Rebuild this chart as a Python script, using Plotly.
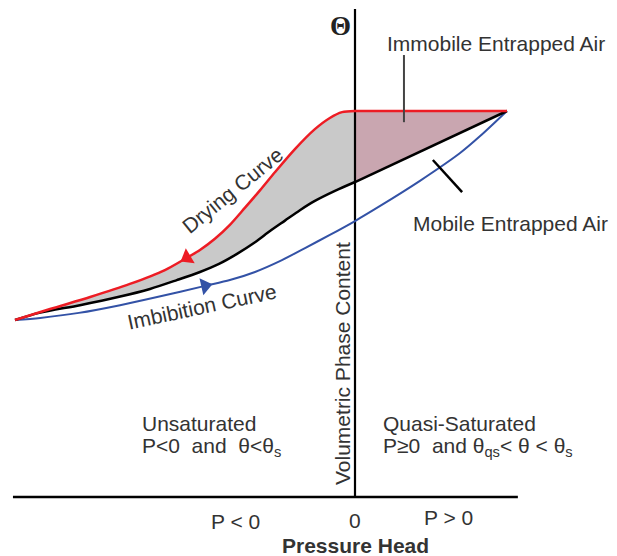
import plotly.graph_objects as go

# ---------------- data (pressure head P, normalised water content theta) ----------
drying_P_unsat = [-1.000, -0.897, -0.779, -0.662, -0.559, -0.500, -0.456, -0.412, -0.368,
                  -0.324, -0.279, -0.235, -0.176, -0.118, -0.074, -0.038, 0.000]
drying_T_unsat = [0.4585, 0.487, 0.518, 0.552, 0.588, 0.617, 0.640, 0.669, 0.705,
                  0.749, 0.795, 0.842, 0.902, 0.953, 0.982, 0.997, 1.000]
drying_P_sat = [0.000, 0.447]
drying_T_sat = [1.000, 1.000]

main_P_unsat = [-1.000, -0.929, -0.809, -0.697, -0.603, -0.524, -0.456, -0.400, -0.347,
                -0.294, -0.250, -0.206, -0.162, -0.118, -0.059, 0.000]
main_T_unsat = [0.4585, 0.477, 0.497, 0.518, 0.539, 0.562, 0.583, 0.604, 0.630,
                0.660, 0.689, 0.716, 0.743, 0.767, 0.793, 0.816]
main_P_sat = [0.000, 0.447]
main_T_sat = [0.816, 1.000]

imbib_P = [-1.000, -0.926, -0.812, -0.691, -0.582, -0.441, -0.368, -0.294, -0.221,
           -0.147, -0.074, 0.000, 0.074, 0.191, 0.309, 0.368, 0.447]
imbib_T = [0.4585, 0.464, 0.477, 0.497, 0.518, 0.547, 0.562, 0.583, 0.611,
           0.645, 0.679, 0.715, 0.754, 0.819, 0.891, 0.935, 1.000]

# arrowheads (position on curve, heading in degrees clockwise from north)
arrow_drying = {"P": [-0.494], "T": [0.620], "angle": 239}
arrow_imbib = {"P": [-0.441], "T": [0.547], "angle": 77}

# axes and leader lines
h_axis_P = [-1.006, 0.479]
h_axis_T = [0.0, 0.0]
v_axis_P = [0.0, 0.0]
v_axis_T = [0.0, 1.264]
immobile_ptr_P = [0.144, 0.144]
immobile_ptr_T = [1.145, 0.971]
mobile_ptr_P = [0.229, 0.315]
mobile_ptr_T = [0.873, 0.790]

# ---------------- styling ----------
RED = "#ed1c24"
BLUE = "#3352a6"
BLACK = "#000000"
GRAY_FILL = "#c9c9c9"
MAUVE_FILL = "#c9a6b0"
TXT = "#333333"
FONT = "Liberation Sans, Arial, sans-serif"

W, H = 617, 556

fig = go.Figure()

# fills first (no lines)
fig.add_trace(go.Scatter(x=main_P_unsat, y=main_T_unsat, mode="lines",
                         line=dict(width=0, shape="spline", smoothing=0.8),
                         hoverinfo="skip", showlegend=False))
fig.add_trace(go.Scatter(x=drying_P_unsat, y=drying_T_unsat, mode="lines",
                         line=dict(width=0, shape="spline", smoothing=0.8),
                         fill="tonexty", fillcolor=GRAY_FILL,
                         hoverinfo="skip", showlegend=False))
fig.add_trace(go.Scatter(x=main_P_sat, y=main_T_sat, mode="lines",
                         line=dict(width=0), hoverinfo="skip", showlegend=False))
fig.add_trace(go.Scatter(x=drying_P_sat, y=drying_T_sat, mode="lines",
                         line=dict(width=0), fill="tonexty", fillcolor=MAUVE_FILL,
                         hoverinfo="skip", showlegend=False))

# axes
fig.add_trace(go.Scatter(x=h_axis_P, y=h_axis_T, mode="lines",
                         line=dict(color=BLACK, width=2.5), showlegend=False))
fig.add_trace(go.Scatter(x=v_axis_P, y=v_axis_T, mode="lines",
                         line=dict(color=BLACK, width=2.2), showlegend=False))

# curves
fig.add_trace(go.Scatter(x=imbib_P, y=imbib_T, mode="lines",
                         line=dict(color=BLUE, width=2, shape="spline", smoothing=0.8),
                         showlegend=False))
fig.add_trace(go.Scatter(x=main_P_unsat, y=main_T_unsat, mode="lines",
                         line=dict(color=BLACK, width=2.5, shape="spline", smoothing=0.8),
                         showlegend=False))
fig.add_trace(go.Scatter(x=main_P_sat, y=main_T_sat, mode="lines",
                         line=dict(color=BLACK, width=2.5), showlegend=False))
fig.add_trace(go.Scatter(x=drying_P_unsat, y=drying_T_unsat, mode="lines",
                         line=dict(color=RED, width=2.5, shape="spline", smoothing=0.8),
                         showlegend=False))
fig.add_trace(go.Scatter(x=drying_P_sat, y=drying_T_sat, mode="lines",
                         line=dict(color=RED, width=2.5), showlegend=False))

# arrowheads
fig.add_trace(go.Scatter(x=arrow_drying["P"], y=arrow_drying["T"], mode="markers",
                         marker=dict(symbol="triangle-up", size=15, color=RED,
                                     angle=arrow_drying["angle"], line=dict(width=0)),
                         showlegend=False))
fig.add_trace(go.Scatter(x=arrow_imbib["P"], y=arrow_imbib["T"], mode="markers",
                         marker=dict(symbol="triangle-up", size=15, color=BLUE,
                                     angle=arrow_imbib["angle"], line=dict(width=0)),
                         showlegend=False))

# leader lines
fig.add_trace(go.Scatter(x=immobile_ptr_P, y=immobile_ptr_T, mode="lines",
                         line=dict(color="#444444", width=2), showlegend=False))
fig.add_trace(go.Scatter(x=mobile_ptr_P, y=mobile_ptr_T, mode="lines",
                         line=dict(color=BLACK, width=2.5), showlegend=False))


def ann(text, px, py, size=21, xanchor="center", angle=0, family=FONT, color=TXT):
    fig.add_annotation(text=text, x=px / W, y=1 - py / H, xref="paper", yref="paper",
                       xanchor=xanchor, yanchor="middle", showarrow=False,
                       textangle=angle, font=dict(family=family, size=size, color=color))


ann("<b>Θ</b>", 340.5, 25.5, size=27, family="Liberation Serif, Times New Roman, serif",
    color="#222222")
ann("Immobile Entrapped Air", 385, 44, xanchor="left")
ann("Mobile Entrapped Air", 411, 224, xanchor="left")
ann("Drying Curve", 232, 190, angle=-39)
ann("Imbibition Curve", 202, 306, angle=-12)
ann("Volumetric Phase Content", 342, 363, angle=-90)
ann("Unsaturated", 140, 423, xanchor="left")
ann("P&lt;0&nbsp; and&nbsp; θ&lt;θ<sub>s</sub>", 140, 447, xanchor="left")
ann("Quasi-Saturated", 381, 423, xanchor="left")
ann("P≥0&nbsp; and θ<sub>qs</sub>&lt; θ &lt; θ<sub>s</sub>", 381, 447, xanchor="left")
ann("P &lt; 0", 235, 521)
ann("0", 355, 520)
ann("P &gt; 0", 448, 517)
ann("<b>Pressure Head</b>", 355, 545)

fig.update_layout(
    width=W, height=H, autosize=False,
    margin=dict(l=0, r=0, t=0, b=0, pad=0),
    paper_bgcolor="white", plot_bgcolor="white",
    xaxis=dict(range=[-355 / 340, 262 / 340], visible=False, fixedrange=True),
    yaxis=dict(range=[-59 / 386, 497 / 386], visible=False, fixedrange=True),
    showlegend=False,
)

fig.write_html("out.html", config={"displayModeBar": False},
               post_script="document.body.style.margin='0';document.body.style.padding='0';")
